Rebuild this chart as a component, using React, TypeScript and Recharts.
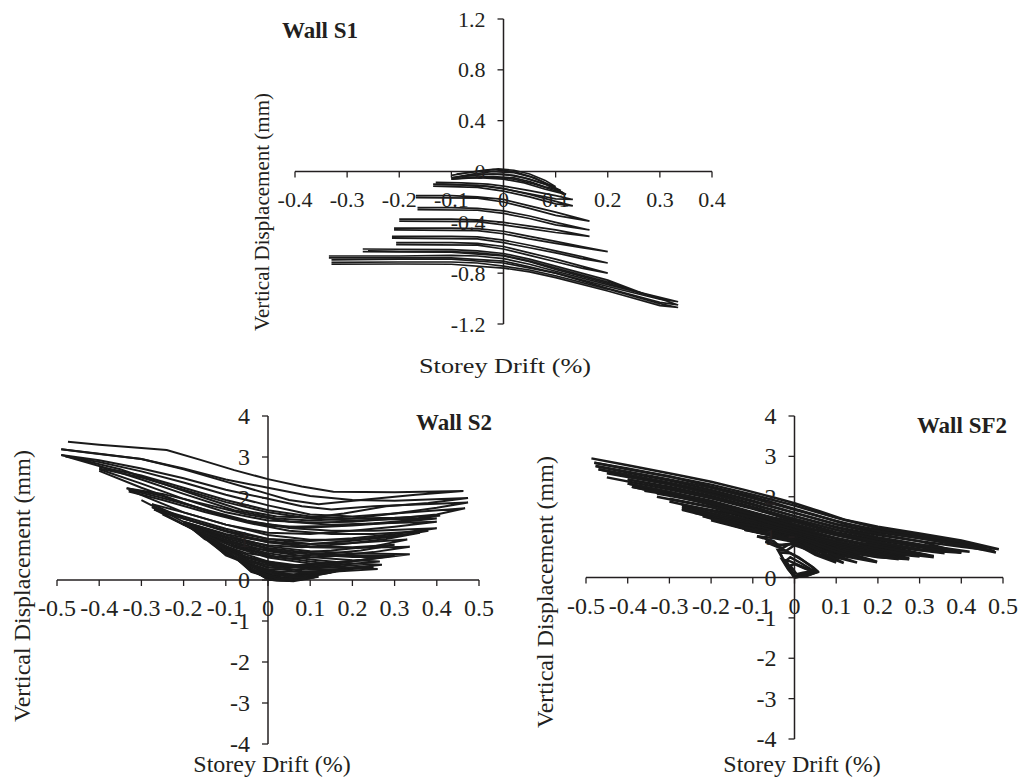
import React from 'react';
import { LineChart, Line, XAxis, YAxis, ReferenceLine } from 'recharts';

type Pt = [number, number];

const INK = '#231f20';
const FONT = '"Liberation Serif", "Times New Roman", serif';

// Wall S1
const s1XTicks = [-0.4, -0.3, -0.2, -0.1, 0, 0.1, 0.2, 0.3, 0.4];
const s1YTicks = [-1.2, -0.8, -0.4, 0, 0.4, 0.8, 1.2];
const s1Loops: Pt[][] = [
  [[-0.1, -0.03], [-0.07, -0.01], [-0.04, 0.01], [-0.01, 0.02], [0.02, 0.01], [0.05, -0.02], [0.08, -0.07], [0.1, -0.12], [0.08, -0.1], [0.05, -0.06], [0.02, -0.03], [-0.02, -0.02], [-0.06, -0.03], [-0.1, -0.05]],
  [[-0.1, -0.05], [-0.06, -0.02], [-0.02, 0.0], [0.02, -0.01], [0.05, -0.04], [0.08, -0.09], [0.11, -0.15], [0.08, -0.12], [0.05, -0.08], [0.02, -0.05], [-0.02, -0.04], [-0.06, -0.045], [-0.1, -0.06]],
  [[-0.09, -0.02], [-0.05, 0.0], [-0.02, 0.015], [0.02, 0.0], [0.06, -0.05], [0.09, -0.11], [0.115, -0.17], [0.09, -0.14], [0.06, -0.1], [0.02, -0.06], [-0.02, -0.045], [-0.06, -0.05], [-0.1, -0.06]],
  [[-0.08, -0.04], [-0.04, -0.02], [0, -0.02], [0.04, -0.05], [0.08, -0.1], [0.12, -0.18], [0.08, -0.14], [0.04, -0.09], [0, -0.06], [-0.04, -0.05], [-0.08, -0.05]],
  [[-0.13, -0.085], [-0.08, -0.09], [-0.03, -0.1], [0, -0.115], [0.05, -0.15], [0.1, -0.19], [0.133, -0.22], [0.1, -0.215], [0.05, -0.175], [0, -0.135], [-0.05, -0.11], [-0.13, -0.1]],
  [[-0.135, -0.1], [-0.08, -0.105], [-0.03, -0.115], [0, -0.135], [0.05, -0.18], [0.1, -0.235], [0.133, -0.27], [0.1, -0.255], [0.05, -0.2], [0, -0.155], [-0.05, -0.125], [-0.135, -0.115]],
  [[-0.168, -0.19], [-0.1, -0.19], [-0.05, -0.2], [0, -0.22], [0.05, -0.27], [0.1, -0.32], [0.165, -0.39], [0.1, -0.345], [0.05, -0.29], [0, -0.24], [-0.05, -0.21], [-0.168, -0.205]],
  [[-0.165, -0.285], [-0.1, -0.285], [-0.05, -0.29], [0, -0.31], [0.05, -0.35], [0.1, -0.4], [0.165, -0.46], [0.1, -0.42], [0.05, -0.37], [0, -0.33], [-0.05, -0.305], [-0.165, -0.3]],
  [[-0.2, -0.375], [-0.1, -0.375], [-0.05, -0.38], [0, -0.4], [0.05, -0.43], [0.1, -0.46], [0.165, -0.51], [0.1, -0.48], [0.05, -0.45], [0, -0.42], [-0.05, -0.395], [-0.2, -0.39]],
  [[-0.21, -0.445], [-0.1, -0.445], [-0.05, -0.45], [0, -0.47], [0.05, -0.51], [0.1, -0.55], [0.15, -0.59], [0.2, -0.63], [0.15, -0.6], [0.1, -0.565], [0.05, -0.53], [0, -0.49], [-0.05, -0.465], [-0.21, -0.46]],
  [[-0.214, -0.51], [-0.1, -0.51], [-0.05, -0.515], [0, -0.54], [0.05, -0.58], [0.1, -0.625], [0.15, -0.67], [0.2, -0.72], [0.15, -0.685], [0.1, -0.64], [0.05, -0.6], [0, -0.56], [-0.05, -0.53], [-0.214, -0.525]],
  [[-0.206, -0.56], [-0.1, -0.56], [-0.05, -0.565], [0, -0.59], [0.05, -0.64], [0.1, -0.69], [0.15, -0.745], [0.2, -0.8], [0.15, -0.76], [0.1, -0.71], [0.05, -0.66], [0, -0.61], [-0.05, -0.58], [-0.206, -0.575]],
  [[-0.27, -0.61], [-0.2, -0.612], [-0.1, -0.615], [-0.05, -0.625], [0, -0.645], [0.05, -0.69], [0.1, -0.745], [0.15, -0.8], [0.2, -0.855], [0.268, -0.96], [0.2, -0.87], [0.15, -0.815], [0.1, -0.76], [0.05, -0.705], [0, -0.66], [-0.05, -0.64], [-0.1, -0.63], [-0.2, -0.628], [-0.26, -0.625]],
  [[-0.335, -0.665], [-0.2, -0.665], [-0.1, -0.66], [-0.05, -0.665], [0, -0.685], [0.05, -0.73], [0.1, -0.785], [0.2, -0.89], [0.3, -0.99], [0.335, -1.025], [0.3, -1.005], [0.2, -0.905], [0.1, -0.8], [0.05, -0.75], [0, -0.705], [-0.1, -0.68], [-0.2, -0.68], [-0.335, -0.68]],
  [[-0.33, -0.715], [-0.2, -0.712], [-0.1, -0.712], [-0.05, -0.72], [0, -0.745], [0.05, -0.775], [0.1, -0.82], [0.2, -0.925], [0.3, -1.04], [0.335, -1.07], [0.3, -1.055], [0.2, -0.94], [0.1, -0.835], [0.05, -0.79], [0, -0.76], [-0.1, -0.73], [-0.2, -0.728], [-0.33, -0.73]],
  [[-0.27, -0.63], [-0.2, -0.632], [-0.1, -0.635], [0, -0.665], [0.05, -0.71], [0.1, -0.77], [0.2, -0.88], [0.3, -1.0], [0.335, -1.05], [0.3, -1.03], [0.2, -0.92], [0.1, -0.8], [0, -0.72], [-0.1, -0.69], [-0.2, -0.69], [-0.33, -0.695]],
];

// Wall S2
const s2XTicks = [-0.5, -0.4, -0.3, -0.2, -0.1, 0, 0.1, 0.2, 0.3, 0.4, 0.5];
const s2YTicks = [-4, -3, -2, -1, 0, 1, 2, 3, 4];
const s2Loops: Pt[][] = [
  [[-0.474, 3.37], [-0.4, 3.3], [-0.3, 3.22], [-0.24, 3.17], [-0.16, 2.93], [-0.08, 2.68], [0, 2.46], [0.08, 2.28], [0.155, 2.15], [0.3, 2.14], [0.463, 2.17], [0.35, 2.08], [0.22, 1.95], [0.12, 1.85], [0.05, 1.95], [0, 2.1], [-0.1, 2.4], [-0.2, 2.7], [-0.3, 2.95], [-0.4, 3.08], [-0.49, 3.19]],
  [[-0.49, 3.19], [-0.42, 3.1], [-0.3, 2.95], [-0.2, 2.72], [-0.1, 2.45], [0, 2.25], [0.1, 2.05], [0.2, 1.95], [0.3, 1.93], [0.474, 2.0], [0.38, 1.88], [0.28, 1.8], [0.18, 1.62], [0.1, 1.52], [0.02, 1.55], [-0.06, 1.7], [-0.15, 2.0], [-0.25, 2.35], [-0.35, 2.7], [-0.49, 3.05]],
  [[-0.49, 3.05], [-0.4, 2.92], [-0.3, 2.72], [-0.2, 2.48], [-0.1, 2.2], [0, 1.98], [0.08, 1.8], [0.15, 1.72], [0.25, 1.8], [0.474, 1.89], [0.4, 1.76], [0.3, 1.62], [0.2, 1.5], [0.1, 1.45], [0.02, 1.5], [-0.08, 1.7], [-0.2, 2.1], [-0.3, 2.45], [-0.4, 2.78], [-0.48, 3.02]],
  [[-0.48, 3.02], [-0.4, 2.88], [-0.3, 2.65], [-0.2, 2.38], [-0.1, 2.08], [0, 1.82], [0.1, 1.6], [0.2, 1.55], [0.3, 1.62], [0.467, 1.75], [0.4, 1.6], [0.3, 1.5], [0.2, 1.42], [0.1, 1.4], [0, 1.45], [-0.1, 1.65], [-0.2, 1.98], [-0.3, 2.35], [-0.4, 2.7]],
  [[-0.4, 2.76], [-0.3, 2.55], [-0.2, 2.25], [-0.1, 1.95], [0, 1.7], [0.1, 1.55], [0.2, 1.5], [0.3, 1.52], [0.408, 1.57], [0.33, 1.45], [0.25, 1.38], [0.15, 1.32], [0.05, 1.3], [-0.05, 1.42], [-0.15, 1.7], [-0.25, 2.05], [-0.335, 2.24]],
  [[-0.4, 2.72], [-0.3, 2.5], [-0.2, 2.2], [-0.1, 1.9], [0, 1.65], [0.1, 1.5], [0.2, 1.45], [0.3, 1.48], [0.4, 1.5], [0.3, 1.4], [0.2, 1.33], [0.1, 1.28], [0, 1.32], [-0.1, 1.55], [-0.2, 1.88], [-0.3, 2.25], [-0.4, 2.66]],
  [[-0.335, 2.24], [-0.25, 2.1], [-0.15, 1.85], [-0.05, 1.6], [0.05, 1.42], [0.15, 1.35], [0.25, 1.38], [0.4, 1.42], [0.3, 1.3], [0.2, 1.2], [0.1, 1.12], [0, 1.15], [-0.1, 1.35], [-0.2, 1.65], [-0.33, 2.2]],
  [[-0.33, 2.2], [-0.25, 2.0], [-0.15, 1.72], [-0.05, 1.45], [0.05, 1.27], [0.15, 1.2], [0.25, 1.2], [0.4, 1.26], [0.3, 1.12], [0.2, 1.02], [0.1, 0.95], [0, 1.0], [-0.1, 1.2], [-0.2, 1.5], [-0.275, 1.85]],
  [[-0.33, 2.16], [-0.25, 1.95], [-0.15, 1.66], [-0.05, 1.4], [0.05, 1.2], [0.15, 1.12], [0.25, 1.12], [0.38, 1.2], [0.3, 1.06], [0.2, 0.96], [0.1, 0.88], [0, 0.92], [-0.1, 1.12], [-0.2, 1.42], [-0.3, 1.95]],
  [[-0.275, 1.85], [-0.2, 1.65], [-0.1, 1.35], [0, 1.1], [0.1, 0.98], [0.2, 0.98], [0.36, 1.15], [0.28, 1.0], [0.18, 0.88], [0.08, 0.8], [0, 0.85], [-0.1, 1.05], [-0.2, 1.35], [-0.275, 1.78]],
  [[-0.275, 1.78], [-0.2, 1.55], [-0.1, 1.25], [0, 1.0], [0.1, 0.88], [0.2, 0.9], [0.33, 0.99], [0.25, 0.82], [0.15, 0.72], [0.05, 0.65], [-0.05, 0.8], [-0.15, 1.1], [-0.27, 1.72]],
  [[-0.25, 1.65], [-0.15, 1.35], [-0.05, 1.05], [0, 0.95], [0.1, 0.82], [0.2, 0.8], [0.3, 0.86], [0.22, 0.72], [0.12, 0.62], [0.02, 0.56], [-0.08, 0.85], [-0.18, 1.25], [-0.25, 1.6]],
  [[-0.27, 1.72], [-0.2, 1.5], [-0.1, 1.18], [0, 0.92], [0.1, 0.8], [0.2, 0.78], [0.336, 0.81], [0.25, 0.68], [0.15, 0.58], [0.05, 0.52], [-0.05, 0.65], [-0.15, 1.0], [-0.2, 1.42]],
  [[-0.2, 1.42], [-0.1, 1.1], [0, 0.82], [0.1, 0.7], [0.2, 0.65], [0.336, 0.63], [0.25, 0.52], [0.15, 0.42], [0.05, 0.35], [-0.05, 0.55], [-0.2, 1.38]],
  [[-0.2, 1.4], [-0.1, 1.06], [0, 0.78], [0.1, 0.66], [0.2, 0.6], [0.3, 0.6], [0.22, 0.48], [0.12, 0.37], [0.03, 0.32], [-0.07, 0.6], [-0.2, 1.36]],
  [[-0.2, 1.38], [-0.1, 1.02], [0, 0.75], [0.1, 0.62], [0.2, 0.56], [0.265, 0.56], [0.2, 0.45], [0.1, 0.32], [0, 0.3], [-0.1, 0.65], [-0.19, 1.35]],
  [[-0.195, 1.36], [-0.1, 0.98], [0, 0.7], [0.1, 0.56], [0.2, 0.48], [0.265, 0.45], [0.18, 0.38], [0.08, 0.26], [0, 0.25], [-0.1, 0.62], [-0.18, 1.25]],
  [[-0.19, 1.35], [-0.1, 0.95], [0, 0.65], [0.1, 0.5], [0.2, 0.4], [0.27, 0.37], [0.2, 0.3], [0.1, 0.2], [0, 0.2], [-0.1, 0.6], [-0.16, 1.15]],
  [[-0.17, 1.22], [-0.09, 0.85], [0, 0.6], [0.1, 0.45], [0.2, 0.35], [0.25, 0.32], [0.15, 0.22], [0.06, 0.14], [0, 0.16], [-0.09, 0.6], [-0.15, 1.07]],
  [[-0.16, 1.15], [-0.08, 0.8], [0, 0.55], [0.1, 0.4], [0.2, 0.3], [0.26, 0.27], [0.15, 0.2], [0.05, 0.1], [0, 0.12], [-0.08, 0.55], [-0.14, 1.0]],
  [[-0.14, 1.0], [-0.06, 0.65], [0, 0.45], [0.1, 0.32], [0.2, 0.29], [0.12, 0.15], [0.04, 0.05], [-0.03, 0.2], [-0.12, 0.85]],
  [[-0.13, 0.92], [-0.06, 0.6], [0, 0.42], [0.08, 0.3], [0.17, 0.24], [0.1, 0.15], [0.03, 0.04], [-0.03, 0.22], [-0.11, 0.78]],
  [[-0.12, 0.85], [-0.05, 0.55], [0, 0.4], [0.1, 0.26], [0.19, 0.25], [0.1, 0.12], [0.03, 0.02], [-0.04, 0.25], [-0.1, 0.72]],
  [[-0.11, 0.78], [-0.05, 0.5], [0, 0.36], [0.08, 0.22], [0.16, 0.2], [0.09, 0.08], [0.02, 0.01], [-0.04, 0.22], [-0.09, 0.64]],
  [[-0.1, 0.72], [-0.04, 0.45], [0, 0.32], [0.08, 0.18], [0.15, 0.18], [0.08, 0.05], [0.02, 0.0], [-0.04, 0.2], [-0.08, 0.58]],
  [[-0.08, 0.58], [-0.03, 0.35], [0, 0.25], [0.06, 0.12], [0.12, 0.08], [0.06, -0.03], [0.01, 0.0], [-0.03, 0.18], [-0.06, 0.42]],
  [[-0.07, 0.5], [-0.03, 0.3], [0, 0.22], [0.05, 0.1], [0.11, 0.06], [0.05, -0.02], [0, 0.01], [-0.03, 0.2], [-0.05, 0.35]],
  [[-0.06, 0.42], [-0.02, 0.25], [0, 0.18], [0.05, 0.07], [0.1, 0.04], [0.05, -0.02], [0, 0.02], [-0.04, 0.28]],
  [[-0.04, 0.28], [0, 0.12], [0.04, 0.03], [0.07, 0.02], [0.03, -0.01], [0, 0.02], [-0.03, 0.2]],
  [[-0.03, 0.2], [0, 0.08], [0.03, 0.02], [0.06, 0.01], [0.02, -0.01], [0, 0.01]],
];

// Wall SF2
const sf2XTicks = [-0.5, -0.4, -0.3, -0.2, -0.1, 0, 0.1, 0.2, 0.3, 0.4, 0.5];
const sf2YTicks = [-4, -3, -2, -1, 0, 1, 2, 3, 4];
const sf2Loops: Pt[][] = [
  [[-0.487, 2.95], [-0.4, 2.78], [-0.28, 2.54], [-0.2, 2.37], [-0.12, 2.17], [-0.05, 1.98], [0, 1.84], [0.06, 1.64], [0.12, 1.43], [0.2, 1.26], [0.3, 1.09], [0.4, 0.92], [0.49, 0.7], [0.4, 0.85], [0.3, 1.02], [0.2, 1.18], [0.12, 1.33], [0.05, 1.55], [0, 1.7], [-0.1, 2.0], [-0.2, 2.25], [-0.3, 2.5], [-0.4, 2.68], [-0.48, 2.84]],
  [[-0.48, 2.84], [-0.4, 2.7], [-0.3, 2.5], [-0.2, 2.3], [-0.1, 2.05], [0, 1.78], [0.1, 1.48], [0.2, 1.22], [0.3, 1.05], [0.4, 0.88], [0.483, 0.62], [0.4, 0.8], [0.3, 0.97], [0.2, 1.12], [0.1, 1.32], [0, 1.6], [-0.1, 1.9], [-0.2, 2.17], [-0.3, 2.4], [-0.4, 2.6], [-0.477, 2.76]],
  [[-0.477, 2.76], [-0.4, 2.62], [-0.3, 2.43], [-0.2, 2.22], [-0.1, 1.96], [0, 1.68], [0.1, 1.4], [0.2, 1.15], [0.3, 0.98], [0.4, 0.82], [0.48, 0.66], [0.4, 0.76], [0.3, 0.9], [0.2, 1.05], [0.1, 1.25], [0, 1.52], [-0.1, 1.82], [-0.2, 2.1], [-0.3, 2.33], [-0.4, 2.52], [-0.47, 2.68]],
  [[-0.47, 2.68], [-0.4, 2.55], [-0.3, 2.35], [-0.2, 2.13], [-0.1, 1.88], [0, 1.6], [0.1, 1.32], [0.2, 1.08], [0.3, 0.9], [0.4, 0.61], [0.3, 0.82], [0.2, 0.98], [0.1, 1.18], [0, 1.45], [-0.1, 1.75], [-0.2, 2.02], [-0.3, 2.25], [-0.4, 2.43]],
  [[-0.45, 2.58], [-0.3, 2.3], [-0.2, 2.07], [-0.1, 1.8], [0, 1.52], [0.1, 1.24], [0.2, 1.0], [0.3, 0.82], [0.42, 0.64], [0.3, 0.76], [0.2, 0.92], [0.1, 1.12], [0, 1.4], [-0.1, 1.7], [-0.2, 1.96], [-0.3, 2.18], [-0.45, 2.48]],
  [[-0.4, 2.43], [-0.3, 2.22], [-0.2, 1.98], [-0.1, 1.72], [0, 1.45], [0.1, 1.18], [0.2, 0.95], [0.3, 0.75], [0.4, 0.61], [0.3, 0.68], [0.2, 0.85], [0.1, 1.05], [0, 1.32], [-0.1, 1.62], [-0.2, 1.9], [-0.3, 2.12], [-0.4, 2.33]],
  [[-0.35, 2.2], [-0.25, 1.98], [-0.15, 1.72], [-0.05, 1.48], [0, 1.38], [0.1, 1.1], [0.2, 0.88], [0.3, 0.7], [0.36, 0.6], [0.28, 0.7], [0.18, 0.88], [0.08, 1.1], [0, 1.28], [-0.1, 1.55], [-0.2, 1.82], [-0.3, 2.05], [-0.36, 2.15]],
  [[-0.4, 2.33], [-0.3, 2.12], [-0.2, 1.88], [-0.1, 1.6], [0, 1.32], [0.1, 1.05], [0.2, 0.82], [0.334, 0.53], [0.25, 0.68], [0.15, 0.86], [0.05, 1.08], [-0.05, 1.38], [-0.15, 1.68], [-0.25, 1.95], [-0.39, 2.25]],
  [[-0.39, 2.25], [-0.3, 2.05], [-0.2, 1.8], [-0.1, 1.52], [0, 1.22], [0.1, 0.95], [0.2, 0.74], [0.334, 0.5], [0.25, 0.6], [0.15, 0.78], [0.05, 1.0], [-0.05, 1.3], [-0.15, 1.58], [-0.27, 1.8]],
  [[-0.33, 2.08], [-0.2, 1.84], [-0.1, 1.56], [0, 1.26], [0.1, 0.98], [0.2, 0.77], [0.32, 0.55], [0.2, 0.67], [0.1, 0.88], [0, 1.15], [-0.1, 1.46], [-0.2, 1.74], [-0.33, 2.0]],
  [[-0.3, 1.95], [-0.2, 1.75], [-0.1, 1.48], [0, 1.18], [0.1, 0.9], [0.2, 0.7], [0.3, 0.52], [0.2, 0.62], [0.1, 0.82], [0, 1.08], [-0.1, 1.38], [-0.2, 1.65], [-0.3, 1.88]],
  [[-0.27, 1.8], [-0.2, 1.65], [-0.1, 1.4], [0, 1.12], [0.1, 0.85], [0.2, 0.65], [0.275, 0.48], [0.2, 0.58], [0.1, 0.76], [0, 1.02], [-0.1, 1.3], [-0.2, 1.55], [-0.27, 1.71]],
  [[-0.27, 1.76], [-0.2, 1.6], [-0.1, 1.35], [0, 1.07], [0.1, 0.8], [0.2, 0.61], [0.275, 0.46], [0.2, 0.54], [0.1, 0.72], [0, 0.97], [-0.1, 1.25], [-0.2, 1.5], [-0.27, 1.68]],
  [[-0.27, 1.71], [-0.2, 1.56], [-0.1, 1.3], [0, 1.02], [0.1, 0.76], [0.2, 0.57], [0.275, 0.45], [0.2, 0.5], [0.1, 0.68], [0, 0.92], [-0.1, 1.2], [-0.2, 1.45]],
  [[-0.24, 1.6], [-0.15, 1.4], [-0.05, 1.15], [0, 1.0], [0.1, 0.72], [0.2, 0.53], [0.25, 0.45], [0.15, 0.58], [0.05, 0.8], [0, 0.9], [-0.1, 1.15], [-0.22, 1.52]],
  [[-0.22, 1.52], [-0.12, 1.3], [-0.05, 1.12], [0, 0.98], [0.1, 0.68], [0.17, 0.45], [0.1, 0.6], [0, 0.9], [-0.1, 1.15], [-0.2, 1.42]],
  [[-0.2, 1.45], [-0.1, 1.28], [0, 1.05], [0.1, 0.7], [0.198, 0.39], [0.1, 0.62], [0, 0.95], [-0.1, 1.2], [-0.18, 1.38]],
  [[-0.18, 1.38], [-0.1, 1.22], [0, 1.0], [0.1, 0.64], [0.198, 0.38], [0.1, 0.56], [0, 0.92], [-0.08, 1.1], [-0.15, 1.3]],
  [[-0.15, 1.3], [-0.08, 1.15], [0, 0.96], [0.08, 0.62], [0.15, 0.37], [0.08, 0.55], [0, 0.9], [-0.06, 1.05], [-0.12, 1.18]],
  [[-0.12, 1.18], [-0.06, 1.07], [0, 0.93], [0.06, 0.66], [0.118, 0.36], [0.06, 0.58], [0, 0.88], [-0.05, 0.98], [-0.09, 1.02]],
  [[-0.09, 1.02], [-0.05, 0.9], [-0.03, 0.72], [0, 0.9], [0.05, 0.62], [0.1, 0.37], [0.05, 0.56], [0, 0.85], [-0.04, 0.8], [-0.07, 0.9]],
  [[-0.07, 0.88], [-0.04, 0.75], [-0.02, 0.66], [0, 0.8], [0.03, 0.7], [0.01, 0.84], [-0.03, 0.8], [-0.06, 0.85]],
  [[0, 0], [-0.02, 0.3], [-0.035, 0.62], [-0.01, 0.6], [0.02, 0.42], [0.045, 0.25], [0.055, 0.16], [0.04, 0.1], [0.02, 0.04], [0, 0]],
  [[0, 0], [-0.03, 0.5], [-0.04, 0.68], [-0.02, 0.66], [0.01, 0.5], [0.04, 0.28], [0.055, 0.13], [0.03, 0.05], [0, 0.0]],
  [[0, 0.02], [-0.015, 0.2], [-0.03, 0.45], [-0.01, 0.4], [0.02, 0.26], [0.05, 0.12], [0.03, 0.04], [0, 0.02]],
  [[0, 0.04], [-0.02, 0.42], [-0.01, 0.5], [0.015, 0.36], [0.04, 0.2], [0.05, 0.15], [0.025, 0.1], [0, 0.04]],
  [[0.005, 0.08], [-0.01, 0.3], [0.0, 0.33], [0.025, 0.22], [0.045, 0.16], [0.02, 0.12], [0.005, 0.08]],
];

const fmt = (v: number) => String(v);

interface PanelProps {
  loops: Pt[][];
  xTicks: number[];
  yTicks: number[];
  box: { left: number; top: number; width: number; height: number };
  margin: { top: number; right: number; bottom: number; left: number };
  fontSize: number;
  lineWidth: number;
}

const Panel: React.FC<PanelProps> = ({ loops, xTicks, yTicks, box, margin, fontSize, lineWidth }) => {
  const xMin = xTicks[0];
  const xMax = xTicks[xTicks.length - 1];
  const yMin = yTicks[0];
  const yMax = yTicks[yTicks.length - 1];
  const plotW = box.width - margin.left - margin.right;
  const plotH = box.height - margin.top - margin.bottom;
  // where the axes cross (value 0 on each scale)
  const zeroX = margin.left + (plotW * (0 - xMin)) / (xMax - xMin);
  const zeroY = margin.top + (plotH * yMax) / (yMax - yMin);

  const xTick = (p: any) => (
    <g>
      <line x1={p.x} x2={p.x} y1={zeroY} y2={zeroY + 6} stroke={INK} strokeWidth={1.3} />
      <text x={p.x} y={zeroY + 28} textAnchor="middle" dominantBaseline="central" fontSize={fontSize} fontFamily={FONT} fill={INK}>
        {fmt(p.payload.value)}
      </text>
    </g>
  );
  const yTick = (p: any) => (
    <g>
      <line x1={zeroX - 6} x2={zeroX} y1={p.y} y2={p.y} stroke={INK} strokeWidth={1.3} />
      <text x={zeroX - 18} y={p.y} textAnchor="end" dominantBaseline="central" fontSize={fontSize} fontFamily={FONT} fill={INK}>
        {fmt(p.payload.value)}
      </text>
    </g>
  );

  // axes get 1px each so that they still render their ticks
  return (
    <div style={{ position: 'absolute', left: box.left, top: box.top }}>
      <LineChart
        width={box.width}
        height={box.height}
        margin={{ ...margin, bottom: margin.bottom - 1, left: margin.left - 1 }}
      >
        <XAxis
          dataKey="x"
          type="number"
          domain={[xMin, xMax]}
          ticks={xTicks}
          interval={0}
          height={1}
          axisLine={false}
          tickLine={false}
          tick={xTick}
          allowDataOverflow
        />
        <YAxis
          dataKey="y"
          type="number"
          domain={[yMin, yMax]}
          ticks={yTicks}
          interval={0}
          width={1}
          axisLine={false}
          tickLine={false}
          tick={yTick}
          allowDataOverflow
        />
        <ReferenceLine y={0} stroke={INK} strokeWidth={1.5} />
        <ReferenceLine x={0} stroke={INK} strokeWidth={1.5} />
        {loops.map((loop, i) => (
          <Line
            key={i}
            data={loop.map(([x, y]) => ({ x, y }))}
            dataKey="y"
            type="linear"
            dot={false}
            stroke="#1a1a1a"
            strokeWidth={lineWidth}
            isAnimationActive={false}
          />
        ))}
      </LineChart>
    </div>
  );
};

const txt = { fontFamily: FONT, fill: INK } as const;

export default function App() {
  return (
    <div style={{ position: 'absolute', left: 0, top: 0, width: 1019, height: 778, background: '#fff' }}>
      <Panel
        loops={s1Loops}
        xTicks={s1XTicks}
        yTicks={s1YTicks}
        box={{ left: 240, top: 0, width: 500, height: 380 }}
        margin={{ top: 19, right: 28, bottom: 56, left: 55 }}
        fontSize={22}
        lineWidth={1.7}
      />
      <Panel
        loops={s2Loops}
        xTicks={s2XTicks}
        yTicks={s2YTicks}
        box={{ left: 0, top: 390, width: 500, height: 388 }}
        margin={{ top: 26, right: 21, bottom: 34, left: 57 }}
        fontSize={24}
        lineWidth={2}
      />
      <Panel
        loops={sf2Loops}
        xTicks={sf2XTicks}
        yTicks={sf2YTicks}
        box={{ left: 510, top: 390, width: 509, height: 388 }}
        margin={{ top: 26, right: 16, bottom: 39, left: 76 }}
        fontSize={24}
        lineWidth={2.5}
      />
      <svg width={1019} height={778} style={{ position: 'absolute', left: 0, top: 0, pointerEvents: 'none' }}>
        <text x={282} y={38} fontSize={23} fontWeight="bold" {...txt}>Wall S1</text>
        <text x={505} y={373} fontSize={22} textAnchor="middle" textLength={172} lengthAdjust="spacingAndGlyphs" {...txt}>Storey Drift (%)</text>
        <text transform="translate(269,212) rotate(-90)" fontSize={21} textAnchor="middle" {...txt}>Vertical Displacement (mm)</text>

        <text x={492} y={430} fontSize={23} fontWeight="bold" textAnchor="end" {...txt}>Wall S2</text>
        <text x={272} y={772} fontSize={24} textAnchor="middle" {...txt}>Storey Drift (%)</text>
        <text transform="translate(30,586) rotate(-90)" fontSize={24} textAnchor="middle" {...txt}>Vertical Displacement (mm)</text>

        <text x={1007} y={433} fontSize={23} fontWeight="bold" textAnchor="end" {...txt}>Wall SF2</text>
        <text x={802} y={772} fontSize={24} textAnchor="middle" {...txt}>Storey Drift (%)</text>
        <text transform="translate(553,592) rotate(-90)" fontSize={24} textAnchor="middle" {...txt}>Vertical Displacement (mm)</text>
      </svg>
    </div>
  );
}
